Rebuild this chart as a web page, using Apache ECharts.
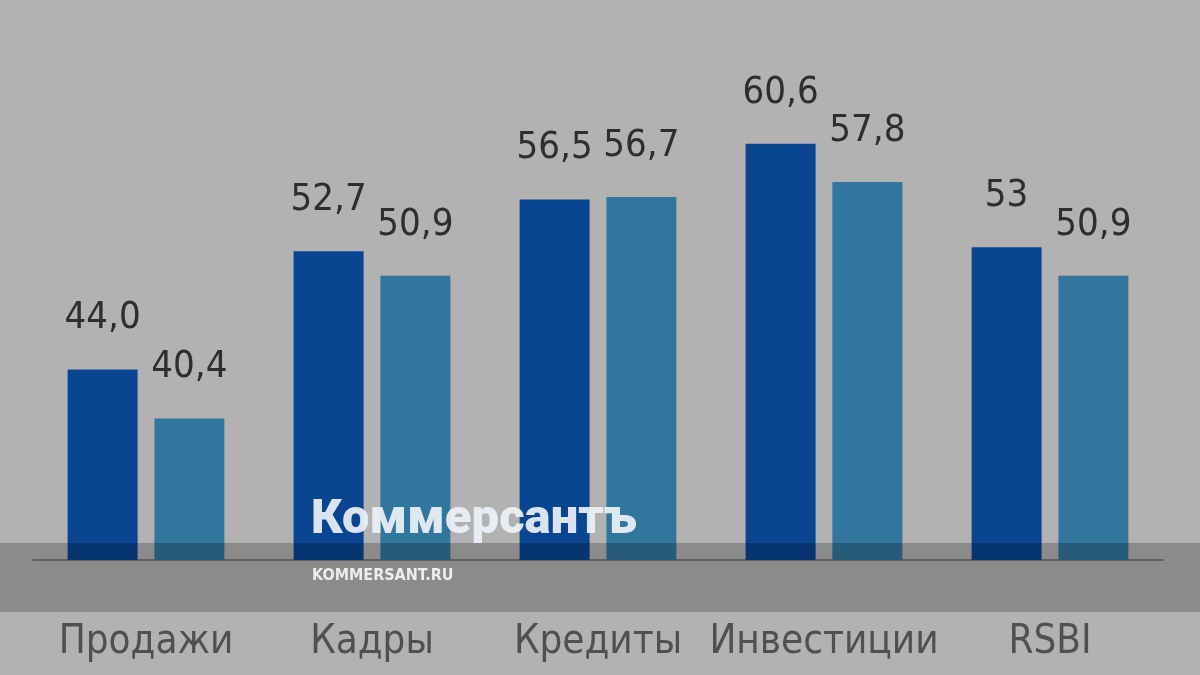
<!DOCTYPE html>
<html>
<head>
<meta charset="utf-8">
<script src="https://cdn.jsdelivr.net/npm/echarts@6/dist/echarts.min.js"></script>
<style>
html,body{margin:0;padding:0;background:#b2b2b2;}
#c{width:1200px;height:675px;}
</style>
</head>
<body>
<div id="c"></div>
<script>
const categories = ['Продажи', 'Кадры', 'Кредиты', 'Инвестиции', 'RSBI'];
const series1 = [44.0, 52.7, 56.5, 60.6, 53];
const series2 = [40.4, 50.9, 56.7, 57.8, 50.9];
const labels1 = ['44,0', '52,7', '56,5', '60,6', '53'];
const labels2 = ['40,4', '50,9', '56,7', '57,8', '50,9'];

const FONT = '"DejaVu Sans Condensed", "Liberation Sans", sans-serif';
const chart = echarts.init(document.getElementById('c'));
const valueLabel = (arr) => ({
  show: true,
  position: 'top',
  distance: 32,
  fontFamily: FONT,
  fontSize: 38,
  color: '#2e2e2e',
  formatter: p => arr[p.dataIndex]
});
chart.setOption({
  backgroundColor: '#b2b2b2',
  animation: false,
  grid: { left: 33, right: 37, top: 84, bottom: 115 },
  xAxis: {
    type: 'category',
    data: categories,
    axisLine: { lineStyle: { color: '#6a6a6a', width: 1.5 } },
    axisTick: { show: false },
    axisLabel: {
      interval: 0,
      margin: 63,
      fontFamily: FONT,
      fontSize: 40,
      color: '#505050'
    }
  },
  yAxis: {
    type: 'value',
    min: 30, max: 65,
    show: false,
    splitLine: { show: false }
  },
  series: [
    {
      type: 'bar', data: series1, barWidth: 70, barGap: '24%',
      itemStyle: { color: '#0a4591' },
      label: valueLabel(labels1)
    },
    {
      type: 'bar', data: series2, barWidth: 70,
      itemStyle: { color: '#32759d' },
      label: valueLabel(labels2)
    }
  ],
  graphic: [
    {
      type: 'rect', z: 100, silent: true,
      shape: { x: 0, y: 543, width: 1200, height: 69 },
      style: { fill: 'rgba(0,0,0,0.22)' }
    },
    {
      type: 'text', z: 101, silent: true, left: 311, top: 496,
      style: {
        text: 'Коммерсантъ', fill: 'rgba(236,242,248,0.92)',
        font: '900 49px Roboto, "DejaVu Sans", sans-serif'
      }
    },
    {
      type: 'text', z: 101, silent: true, left: 312, top: 568,
      style: {
        text: 'KOMMERSANT.RU', fill: 'rgba(245,245,245,0.92)',
        font: 'bold 16px "DejaVu Sans Condensed", sans-serif'
      }
    }
  ]
});
</script>
</body>
</html>
